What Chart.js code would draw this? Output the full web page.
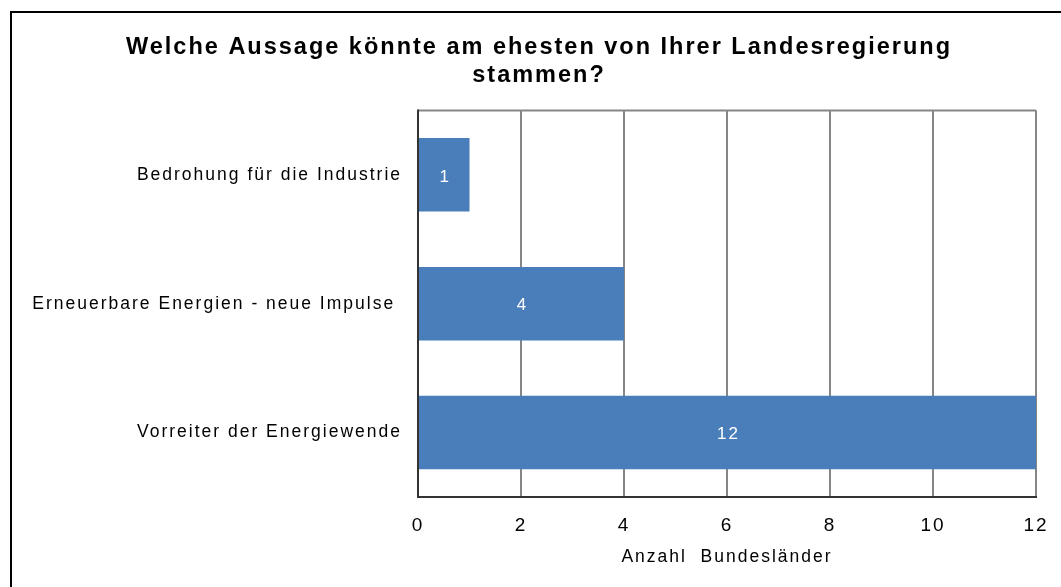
<!DOCTYPE html>
<html>
<head>
<meta charset="utf-8">
<script src="https://cdn.jsdelivr.net/npm/chart.js@4/dist/chart.umd.min.js"></script>
<style>
  html, body { margin: 0; padding: 0; background: #ffffff; }
  #wrap { position: relative; width: 1061px; height: 587px; }
</style>
</head>
<body>
<div id="wrap"><canvas id="grafico"></canvas></div>
<script>
// Daten aus der Grafik
const kategorien = ['Bedrohung für die Industrie', 'Erneuerbare Energien - neue Impulse ', 'Vorreiter der Energiewende'];
const anzahl = [1, 4, 12];
const titelZeilen = ['Welche Aussage könnte am ehesten von Ihrer Landesregierung', 'stammen?'];
const achsenTitel = 'Anzahl  Bundesländer';

const blau = '#4a7ebb';
const grau = '#868686';
const schrift = '"Liberation Sans", Arial, sans-serif';
const abstand = '2px'; // Original hat leicht gesperrte Schrift

// Sperrung muss vor dem Messen und vor dem Zeichnen gesetzt werden
const sperrung = {
    id: 'sperrung',
    beforeUpdate(chart) { chart.ctx.letterSpacing = abstand; },
    beforeLayout(chart) { chart.ctx.letterSpacing = abstand; },
    beforeDraw(chart) { chart.ctx.letterSpacing = abstand; }
};

// Rahmen oben/links wie im Original (Bild ist rechts/unten abgeschnitten)
const rahmen = {
    id: 'rahmen',
    beforeDraw(chart) {
        const c = chart.ctx;
        c.save();
        c.fillStyle = '#ffffff';
        c.fillRect(0, 0, chart.width, chart.height);
        c.strokeStyle = '#000000';
        c.lineWidth = 2;
        c.beginPath();
        c.moveTo(11, chart.height);
        c.lineTo(11, 12);
        c.lineTo(chart.width, 12);
        c.stroke();
        c.restore();
    },
    afterDraw(chart) {
        // Plotbereich oben grau, links dunkle Achse
        const a = chart.chartArea;
        const c = chart.ctx;
        c.save();
        c.strokeStyle = grau;
        c.lineWidth = 2;
        c.beginPath();
        c.moveTo(a.left, a.top);
        c.lineTo(a.right, a.top);
        c.stroke();
        c.strokeStyle = '#333333';
        c.beginPath();
        c.moveTo(a.left, a.top - 1);
        c.lineTo(a.left, a.bottom + 1);
        c.stroke();
        c.restore();
    }
};

// Werte weiß in die Balken schreiben
const werteLabels = {
    id: 'werteLabels',
    afterDatasetsDraw(chart) {
        const c = chart.ctx;
        const meta = chart.getDatasetMeta(0);
        c.save();
        c.fillStyle = '#ffffff';
        c.font = '17px ' + schrift;
        c.textAlign = 'center';
        c.textBaseline = 'middle';
        meta.data.forEach((bar, i) => {
            const x = (bar.x + bar.base) / 2;
            c.fillText(String(anzahl[i]), x + 1, bar.y + 2);
        });
        c.restore();
    }
};

const ctx = document.getElementById('grafico').getContext('2d');

new Chart(ctx, {
    type: 'bar',
    data: {
        labels: kategorien,
        datasets: [{
            data: anzahl,
            backgroundColor: blau,
            borderWidth: 0,
            barPercentage: 0.57,
            categoryPercentage: 1
        }]
    },
    options: {
        indexAxis: 'y',
        responsive: true,
        maintainAspectRatio: false,
        animation: false,
        layout: { padding: { left: 42, right: 25, top: 0, bottom: 0 } },
        plugins: {
            legend: { display: false },
            tooltip: { enabled: false },
            title: {
                display: true,
                text: titelZeilen,
                color: '#000000',
                font: { family: schrift, size: 23.5, weight: 'bold', lineHeight: 1.2 },
                padding: { top: 33, bottom: 21 }
            }
        },
        scales: {
            x: {
                min: 0,
                max: 12,
                ticks: {
                    stepSize: 2,
                    color: '#000000',
                    padding: 17,
                    font: { family: schrift, size: 19 }
                },
                grid: { color: grau, lineWidth: 2, drawTicks: false },
                border: { display: true, color: '#333333', width: 2 },
                title: {
                    display: true,
                    text: achsenTitel,
                    color: '#000000',
                    font: { family: schrift, size: 17.5 },
                    padding: { top: 4, bottom: 19 }
                },
                afterFit(scale) {
                    scale.height = 90;
                    scale.paddingLeft = 0;
                    scale.paddingRight = 0;
                }
            },
            y: {
                ticks: {
                    color: '#000000',
                    padding: 16,
                    font: { family: schrift, size: 17.5 }
                },
                grid: { display: false, drawTicks: false },
                border: { display: false },
                afterFit(scale) {
                    scale.width = 418 - 42;
                    // lange Beschriftung nicht am Achsenrand abschneiden
                    scale._computeLabelArea = () => undefined;
                }
            }
        }
    },
    plugins: [sperrung, rahmen, werteLabels]
});
</script>
</body>
</html>
